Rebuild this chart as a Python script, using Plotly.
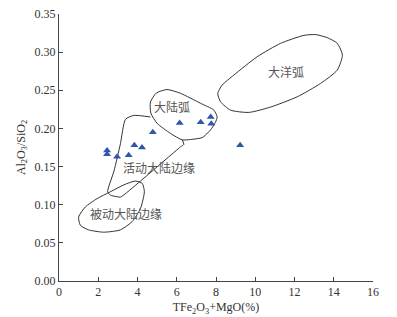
import plotly.graph_objects as go

# Sample data (TFe2O3+MgO %, Al2O3/SiO2)
sample_x = [2.45, 2.45, 2.96, 3.55, 3.84, 4.23, 4.78, 6.15, 7.22, 7.73, 7.76, 9.23]
sample_y = [0.171, 0.166, 0.163, 0.165, 0.178, 0.175, 0.195, 0.207, 0.208, 0.215, 0.206, 0.178]

# Discrimination field boundaries
oceanic_x = [8.09, 8.23, 8.74, 9.67, 10.78, 12.14, 13.33, 14.18, 14.44, 14.18, 13.67, 13.08, 12.48, 11.29, 10.10, 8.91, 8.32, 8.09]
oceanic_y = [0.246, 0.235, 0.224, 0.221, 0.228, 0.2415, 0.259, 0.2765, 0.296, 0.3115, 0.319, 0.323, 0.322, 0.3115, 0.294, 0.270, 0.257, 0.246]

cont_arc_x = [5.51, 6.19, 7.21, 7.89, 8.06, 7.97, 7.72, 7.30, 6.70, 6.28, 5.68, 5.00, 4.68, 4.66, 4.96, 5.51]
cont_arc_y = [0.251, 0.246, 0.233, 0.224, 0.215, 0.208, 0.198, 0.188, 0.1855, 0.185, 0.1935, 0.2067, 0.220, 0.2346, 0.2464, 0.251]

active_x = [6.28, 6.36, 6.20, 4.15, 3.13, 2.96, 2.62, 2.48, 2.80, 3.13, 3.39, 3.81, 4.66]
active_y = [0.185, 0.179, 0.176, 0.131, 0.110, 0.1105, 0.1125, 0.117, 0.144, 0.180, 0.212, 0.217, 0.215]

passive_x = [1.00, 1.09, 1.51, 2.28, 3.13, 3.73, 4.15, 4.35, 4.24, 3.89, 3.30, 2.62, 1.94, 1.34, 1.00]
passive_y = [0.084, 0.073, 0.067, 0.064, 0.067, 0.078, 0.095, 0.117, 0.128, 0.131, 0.126, 0.117, 0.108, 0.097, 0.084]

field_labels = ["大洋弧", "大陆弧", "活动大陆边缘", "被动大陆边缘"]
label_x = [11.55, 5.77, 5.09, 3.42]
label_y = [0.274, 0.229, 0.149, 0.0887]

x_ticks = [0, 2, 4, 6, 8, 10, 12, 14, 16]
y_ticks = [0.00, 0.05, 0.10, 0.15, 0.20, 0.25, 0.30, 0.35]

line_style = dict(color="#333333", width=1, shape="spline", smoothing=0.6)

fig = go.Figure()
for fx, fy in [(oceanic_x, oceanic_y), (cont_arc_x, cont_arc_y), (active_x, active_y), (passive_x, passive_y)]:
    fig.add_trace(go.Scatter(x=fx, y=fy, mode="lines", line=line_style, hoverinfo="skip", showlegend=False))

fig.add_trace(go.Scatter(
    x=sample_x, y=sample_y, mode="markers",
    marker=dict(symbol="triangle-up", size=7, color="#2f56a8"),
    showlegend=False,
))

for t, lx, ly in zip(field_labels, label_x, label_y):
    fig.add_annotation(x=lx, y=ly, text=t, showarrow=False,
                       font=dict(family="Noto Sans CJK SC", size=12, color="#555555"))

axis_common = dict(
    showline=True, linecolor="#444444", linewidth=1,
    ticks="inside", ticklen=4, tickcolor="#444444",
    showgrid=False, zeroline=False, automargin=False,
    ticklabeloverflow="allow",
    tickfont=dict(family="Liberation Serif", size=12, color="#333333"),
)

fig.update_xaxes(range=[0, 16], tickvals=x_ticks, ticktext=[str(v) for v in x_ticks],
                 title=dict(text="TFe<sub>2</sub>O<sub>3</sub>+MgO(%)", standoff=4,
                            font=dict(family="Liberation Serif", size=12, color="#333333")),
                 **axis_common)
fig.update_yaxes(range=[0, 0.35], tickvals=y_ticks, ticktext=[f"{v:.2f}" for v in y_ticks],
                 title=dict(text="Al<sub>2</sub>O<sub>3</sub>/SiO<sub>2</sub>", standoff=6,
                            font=dict(family="Liberation Serif", size=12, color="#333333")),
                 **axis_common)

# page body adds an 8px offset, so the figure is drawn slightly smaller
fig.update_layout(
    width=389, height=309,
    margin=dict(l=51, r=24, t=6, b=36),
    paper_bgcolor="white", plot_bgcolor="white",
)

fig.write_html("out.html")
